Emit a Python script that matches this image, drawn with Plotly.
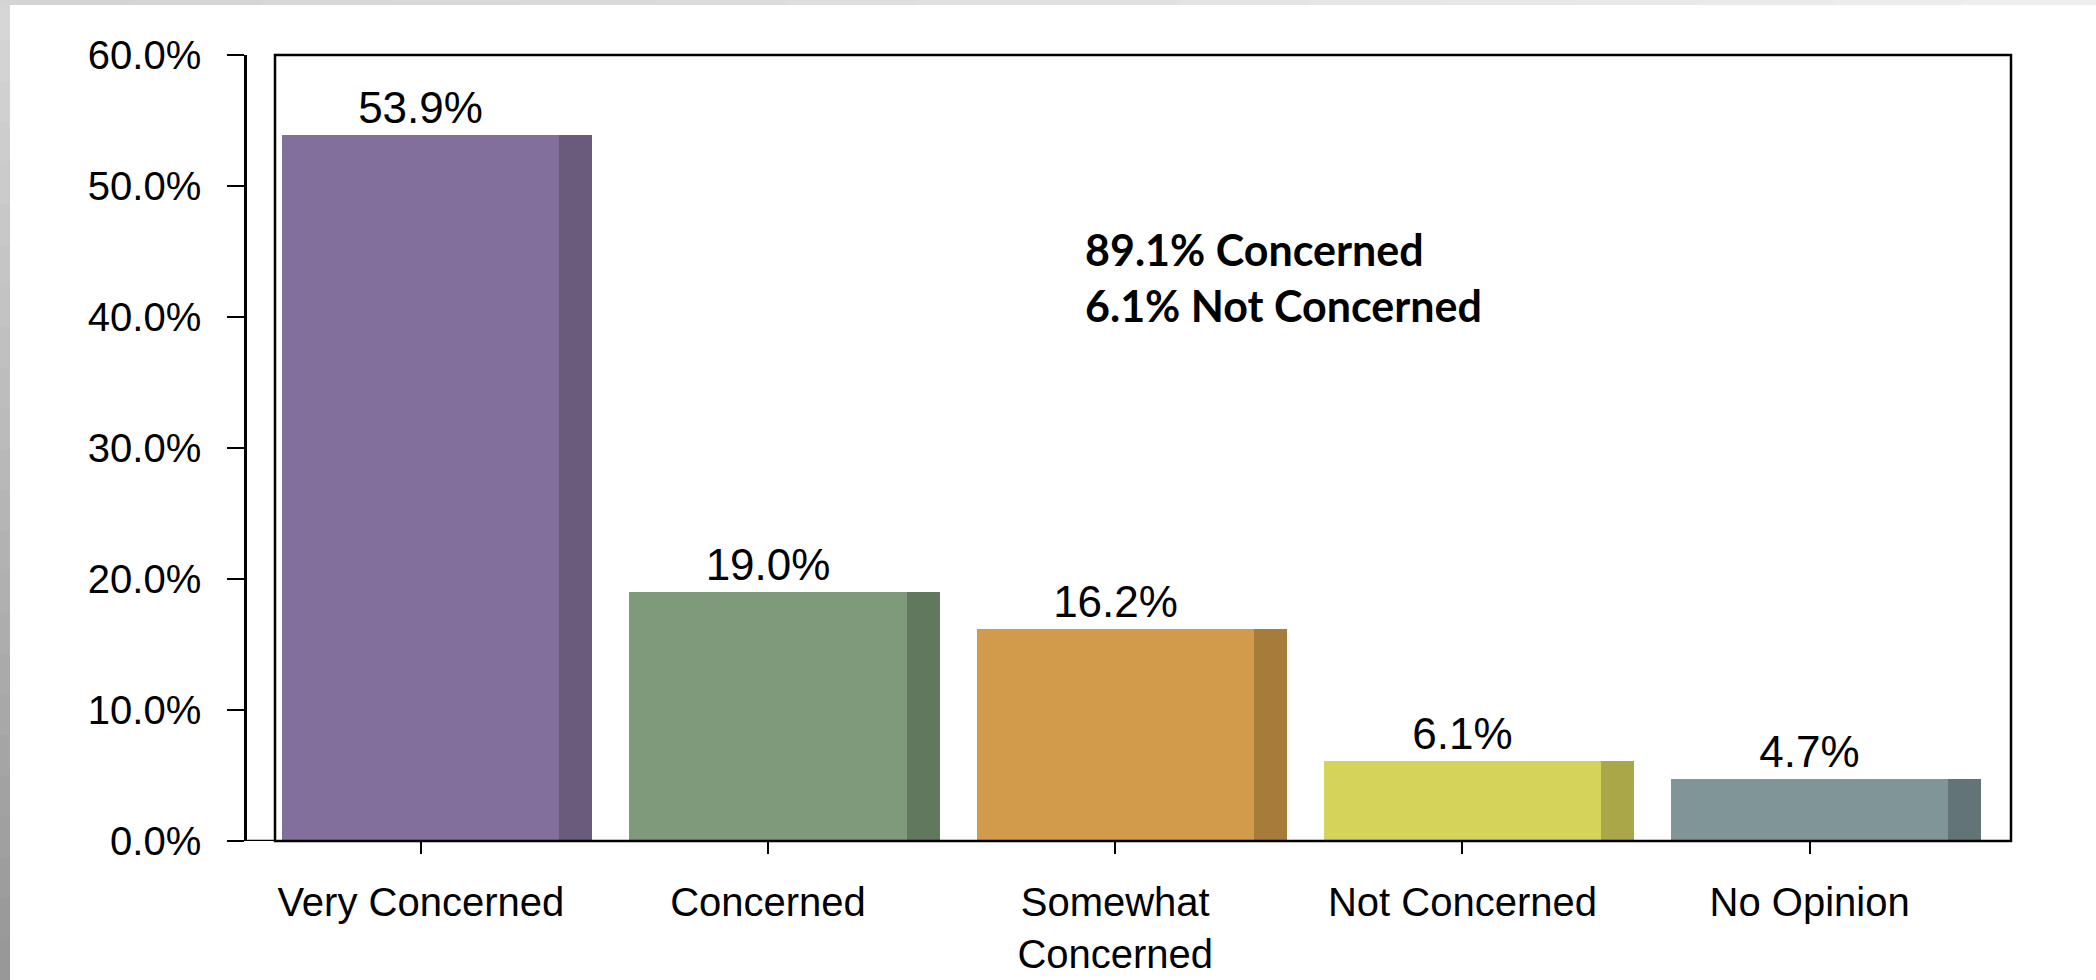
import plotly.graph_objects as go

# ---- data ----
categories = ["Very Concerned", "Concerned", "Somewhat<br>Concerned", "Not Concerned", "No Opinion"]
values = [53.9, 19.0, 16.2, 6.1, 4.7]
front_colors = ["#836F9C", "#7F9A7B", "#D29B4B", "#D6D35A", "#7F9598"]
side_colors = ["#6A5A7C", "#62785E", "#A77C3B", "#A9A747", "#627476"]
y_ticks = [0, 10, 20, 30, 40, 50, 60]
y_tick_labels = [f"{v:.1f}%" for v in y_ticks]

W, H = 2096, 980
def px(x): return x / W
def py(y): return 1 - y / H

concerned_total = sum(values[:3])
not_concerned = values[3]
summary = (f"<b>{concerned_total:.1f}% Concerned</b><br>"
           f"<b>{not_concerned:.1f}% Not Concerned</b>")

fig = go.Figure()
# front face of bars
fig.add_trace(go.Bar(
    x=categories, y=values, width=0.798, offset=-0.399,
    marker=dict(color=front_colors, line=dict(width=0)),
    text=[f"{v:.1f}%" for v in values], textposition="outside",
    textfont=dict(family="Liberation Sans, Arial", size=44, color="black"),
    constraintext="none", cliponaxis=False, showlegend=False, hoverinfo="skip",
))
# darker side strip of bars
fig.add_trace(go.Bar(
    x=categories, y=values, width=0.095, offset=0.399,
    marker=dict(color=side_colors, line=dict(width=0)),
    showlegend=False, hoverinfo="skip",
))

x0d, x1d = px(275), px(2011)
y0d, y1d = py(841), py(55)

fig.update_layout(
    width=W, height=H, margin=dict(l=0, r=0, t=0, b=0, autoexpand=False),
    paper_bgcolor="white", plot_bgcolor="white",
    barmode="overlay", bargap=0,
    font=dict(family="Liberation Sans, Arial", size=40, color="black"),
    xaxis=dict(domain=[x0d, x1d], range=[-0.42, 4.58], type="category",
               automargin=False,
               showline=False, showgrid=False, zeroline=False,
               ticks="outside", ticklen=12, tickwidth=2, tickcolor="black",
               tickfont=dict(size=40), ticklabelstandoff=14),
    yaxis=dict(domain=[y0d, y1d], range=[0, 60], anchor="free", position=px(245),
               automargin=False,
               showline=True, linecolor="black", linewidth=2.5,
               showgrid=False, zeroline=False,
               tickvals=y_ticks, ticktext=y_tick_labels,
               ticks="outside", ticklen=17, tickwidth=2, tickcolor="black",
               tickfont=dict(size=40), ticklabelstandoff=18),
)

shapes = []
# gray frame decoration (left gradient, top strip)
n = 24
for i in range(n):
    g = int(214 - (214 - 152) * i / (n - 1))
    shapes.append(dict(type="rect", xref="paper", yref="paper", x0=0, x1=px(10),
                       y0=py(H * (i + 1) / n + 2), y1=py(H * i / n),
                       line=dict(width=0), fillcolor=f"rgb({g},{g},{g})", layer="below"))
m = 16
for i in range(m):
    g = int(212 + (238 - 212) * i / (m - 1))
    shapes.append(dict(type="rect", xref="paper", yref="paper", x0=px(W * i / m), x1=px(W * (i + 1) / m + 2),
                       y0=py(5), y1=1, line=dict(width=0), fillcolor=f"rgb({g},{g},{g})", layer="below"))
# plot box
shapes.append(dict(type="rect", xref="x domain", yref="y domain", x0=0, x1=1, y0=0, y1=1,
                   line=dict(color="black", width=2.5), fillcolor="rgba(0,0,0,0)", layer="above"))
# baseline connecting y axis to box
shapes.append(dict(type="line", xref="paper", yref="y", x0=px(245), x1=x0d, y0=0, y1=0,
                   line=dict(color="black", width=2.5)))
fig.update_layout(shapes=shapes)

fig.add_annotation(xref="paper", yref="paper", x=px(1083), y=py(222),
                   xanchor="left", yanchor="top", align="left", showarrow=False,
                   text=summary, font=dict(family="Lato", size=43, color="black"))

fig.write_html("out.html", config={"displayModeBar": False},
               post_script="document.body.style.margin='0';")
